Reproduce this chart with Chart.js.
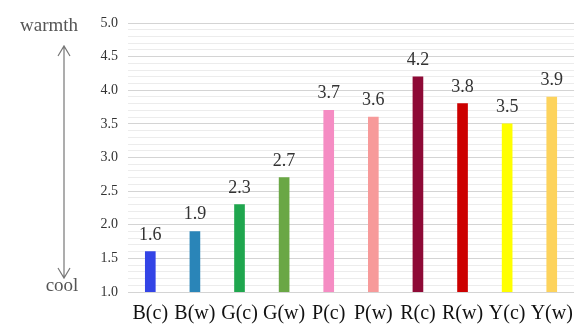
<!DOCTYPE html>
<html>
<head>
<meta charset="utf-8">
<script src="https://cdn.jsdelivr.net/npm/chart.js@4/dist/chart.umd.min.js"></script>
<style>
  html, body { margin: 0; padding: 0; background: #fff; }
  #wrap { width: 583px; height: 325px; }
</style>
</head>
<body>
<div id="wrap"><canvas id="c" width="583" height="325"></canvas></div>
<script>
// Colour samples and their warmth ratings
const categories = ['B(c)', 'B(w)', 'G(c)', 'G(w)', 'P(c)', 'P(w)', 'R(c)', 'R(w)', 'Y(c)', 'Y(w)'];
const warmth = [1.6, 1.9, 2.3, 2.7, 3.7, 3.6, 4.2, 3.8, 3.5, 3.9];
const barColors = ['#3344e6', '#2a85b8', '#1fa64e', '#6aa745', '#f58cc3', '#f79a9a', '#8e0a36', '#cc0000', '#ffff00', '#fdd35c'];
const yMin = 1.0, yMax = 5.0;

const serif = '"Liberation Serif", "Times New Roman", serif';

// Value labels above each bar
const valueLabels = {
  id: 'valueLabels',
  afterDatasetsDraw(chart) {
    const ctx = chart.ctx;
    const meta = chart.getDatasetMeta(0);
    ctx.save();
    ctx.font = '18px ' + serif;
    ctx.fillStyle = '#333';
    ctx.textAlign = 'center';
    ctx.textBaseline = 'alphabetic';
    meta.data.forEach((bar, i) => {
      ctx.fillText(warmth[i].toFixed(1), bar.x, bar.y - 12);
    });
    ctx.restore();
  }
};

// "warmth" / "cool" scale hint with a double-headed arrow on the left
const scaleHint = {
  id: 'scaleHint',
  afterDraw(chart) {
    const ctx = chart.ctx;
    const x = 64, top = 46, bottom = 278;
    ctx.save();
    ctx.strokeStyle = '#777';
    ctx.lineWidth = 1.2;
    ctx.beginPath();
    ctx.moveTo(x, top); ctx.lineTo(x, bottom);
    ctx.moveTo(x - 6, top + 10); ctx.lineTo(x, top); ctx.lineTo(x + 6, top + 10);
    ctx.moveTo(x - 6, bottom - 10); ctx.lineTo(x, bottom); ctx.lineTo(x + 6, bottom - 10);
    ctx.stroke();
    ctx.font = '19px ' + serif;
    ctx.fillStyle = '#555';
    ctx.textAlign = 'center';
    ctx.textBaseline = 'middle';
    ctx.fillText('warmth', 49, 26);
    ctx.fillText('cool', 62, 286);
    ctx.restore();
  }
};

new Chart(document.getElementById('c'), {
  type: 'bar',
  data: {
    labels: categories,
    datasets: [{
      data: warmth,
      backgroundColor: barColors,
      barThickness: 10,
      borderWidth: 0
    }]
  },
  options: {
    responsive: false,
    animation: false,
    layout: { padding: { left: 88, right: 3, top: 23, bottom: 0 } },
    plugins: { legend: { display: false }, tooltip: { enabled: false } },
    scales: {
      x: {
        afterFit(scale) { scale.height = 33; },
        grid: { display: false, drawTicks: false },
        border: { display: false },
        ticks: {
          color: '#111',
          font: { family: serif, size: 20 },
          padding: 10,
          maxRotation: 0,
          autoSkip: false
        }
      },
      y: {
        min: yMin,
        max: yMax,
        afterFit(scale) { scale.width = 40; },
        border: { display: false },
        grid: {
          drawTicks: false,
          color(ctx) {
            const v = Math.round(ctx.tick.value * 10);
            return v % 5 === 0 ? '#d4d4d4' : '#ececec';
          },
          lineWidth: 1
        },
        ticks: {
          stepSize: 0.1,
          autoSkip: false,
          color: '#333',
          font: { family: serif, size: 14 },
          padding: 10,
          callback(v) {
            const t = Math.round(v * 10);
            return t % 5 === 0 ? (t / 10).toFixed(1) : '';
          }
        }
      }
    }
  },
  plugins: [valueLabels, scaleHint]
});
</script>
</body>
</html>
